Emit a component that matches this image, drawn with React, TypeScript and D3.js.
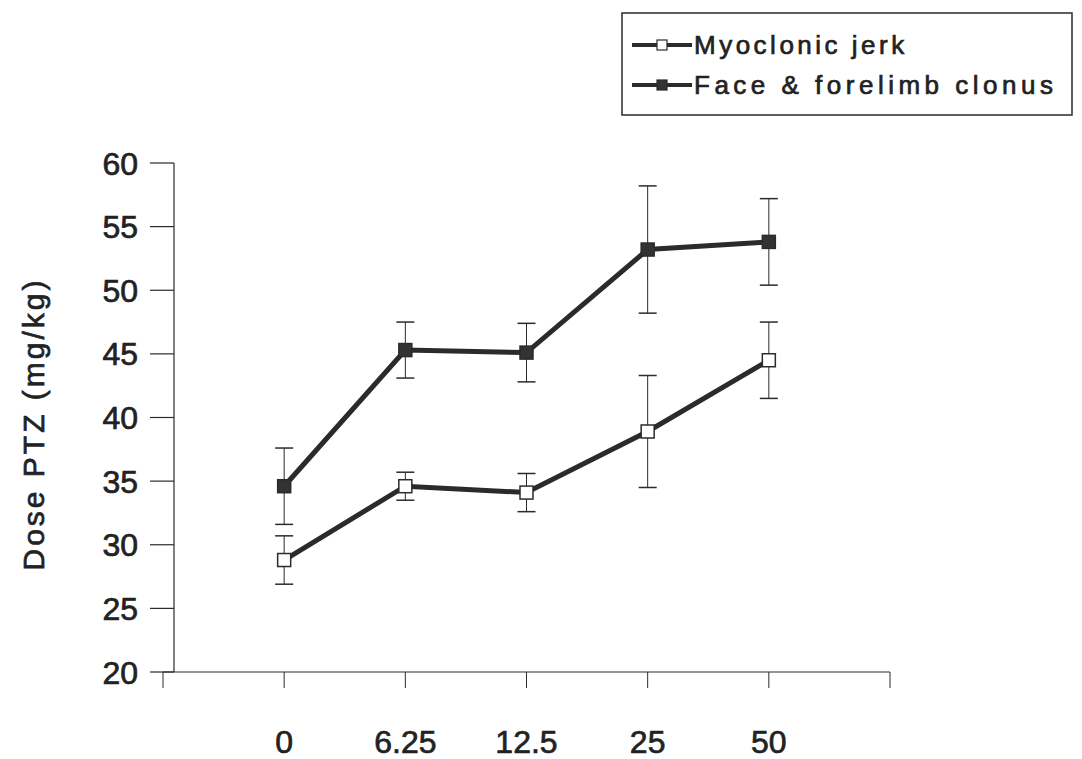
import React from 'react';
import * as d3 from 'd3';

// doses (mg/kg) on the x axis
const doses = ['0', '6.25', '12.5', '25', '50'];
const yTicks = [20, 25, 30, 35, 40, 45, 50, 55, 60];

// mean threshold dose and SEM
const myoclonic = [28.8, 34.6, 34.1, 38.9, 44.5];
const myoclonicErr = [1.9, 1.1, 1.5, 4.4, 3.0];
const clonus = [34.6, 45.3, 45.1, 53.2, 53.8];
const clonusErr = [3.0, 2.2, 2.3, 5.0, 3.4];

const font = '"Liberation Sans", Arial, sans-serif';
const ink = '#2b2b2b';

const App = () => {
  const width = 1082, height = 759;
  const x = d3.scalePoint().domain(doses).range([163, 890]).padding(1);
  const y = d3.scaleLinear().domain([20, 60]).range([672, 163]);

  const line = d3.line<number>()
    .x((d, i) => x(doses[i]) as number)
    .y(d => y(d));

  const series = [
    { name: 'Myoclonic jerk', vals: myoclonic, err: myoclonicErr, fill: '#fff' },
    { name: 'Face & forelimb clonus', vals: clonus, err: clonusErr, fill: '#333' },
  ];

  const m = 13; // marker size
  const heavy = { stroke: '#222', strokeWidth: 0.7 };

  return (
    <svg width={width} height={height} style={{ position: 'absolute', left: 0, top: 0, background: '#fff' }}>
      {/* y axis */}
      <line x1={174} x2={174} y1={y(60)} y2={y(20)} stroke={ink} strokeWidth={1.2} />
      {yTicks.map(t => (
        <g key={t}>
          <line x1={150} x2={174} y1={y(t)} y2={y(t)} stroke={ink} strokeWidth={1.2} />
          <text x={138} y={y(t)} dy="0.36em" textAnchor="end" fontFamily={font} fontSize={32}
            fill="#222" {...heavy}>{t}</text>
        </g>
      ))}
      <text transform={`translate(44,${424}) rotate(-90)`} textAnchor="middle" fontFamily={font}
        fontSize={30} letterSpacing={3} fill="#222" {...heavy}>Dose PTZ (mg/kg)</text>

      {/* x axis */}
      <line x1={163} x2={890} y1={672} y2={672} stroke={ink} strokeWidth={1.2} />
      {[163, ...doses.map(d => x(d) as number), 890].map((px, i) => (
        <line key={i} x1={px} x2={px} y1={672} y2={688} stroke={ink} strokeWidth={1} />
      ))}
      {doses.map(d => (
        <text key={d} x={x(d)} y={753} textAnchor="middle" fontFamily={font} fontSize={32}
          fill="#222" {...heavy}>{d}</text>
      ))}

      {/* error bars */}
      {series.map(s => s.vals.map((v, i) => {
        const cx = x(doses[i]) as number;
        const top = y(v + s.err[i]), bot = y(v - s.err[i]);
        return (
          <g key={s.name + i} stroke={ink} strokeWidth={1}>
            <line x1={cx} x2={cx} y1={top} y2={bot} />
            <line x1={cx - 9} x2={cx + 9} y1={top} y2={top} strokeWidth={1.5} />
            <line x1={cx - 9} x2={cx + 9} y1={bot} y2={bot} strokeWidth={1.5} />
          </g>
        );
      }))}

      {/* lines and markers */}
      {series.map(s => (
        <g key={s.name}>
          <path d={line(s.vals) as string} fill="none" stroke={ink} strokeWidth={5} />
          {s.vals.map((v, i) => (
            <rect key={i} x={(x(doses[i]) as number) - m / 2} y={y(v) - m / 2} width={m} height={m}
              fill={s.fill} stroke={ink} strokeWidth={1.5} />
          ))}
        </g>
      ))}

      {/* legend */}
      <rect x={622} y={13} width={450} height={102} fill="none" stroke={ink} strokeWidth={1.5} />
      {series.map((s, i) => {
        const ly = 45 + i * 40;
        return (
          <g key={s.name}>
            <line x1={632} x2={692} y1={ly} y2={ly} stroke={ink} strokeWidth={4} />
            <rect x={662 - 5} y={ly - 5} width={10} height={10} fill={s.fill} stroke={ink} strokeWidth={1.2} />
            <text x={694} y={ly} dy="0.36em" fontFamily={font} fontSize={26} letterSpacing={i ? 4.5 : 3.5}
              fill="#222" {...heavy}>{s.name}</text>
          </g>
        );
      })}
    </svg>
  );
};

export default App;
